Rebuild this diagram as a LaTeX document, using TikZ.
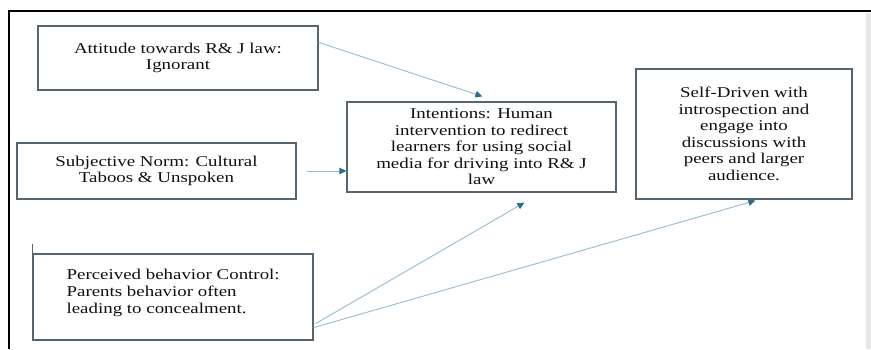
\documentclass[tikz,border=0pt]{standalone}
\usepackage{fontspec}
\setmainfont{Liberation Serif}[FakeStretch=1.26]
\usetikzlibrary{arrows.meta,calc}
\definecolor{boxline}{HTML}{56646F}
\definecolor{arrline}{HTML}{94BDD2}
\definecolor{arrtip}{HTML}{2C6D8E}
\definecolor{txt}{HTML}{101010}
\definecolor{strip}{HTML}{E6E6E6}
\tikzset{
  box/.style={draw=boxline, line width=1.2pt, rectangle, inner sep=0pt, align=center, text=txt,
    font=\fontsize{15pt}{16.5pt}\selectfont},
  plaintext/.style={inner sep=0pt, align=left, text=txt, font=\fontsize{15pt}{17pt}\selectfont},
  arr/.style={draw=arrline, line width=0.9pt, -{Triangle[length=7pt,width=6.5pt,color=arrtip]}},
  frame/.style={draw=black, line width=1.6pt}
}
\begin{document}
\begin{tikzpicture}[x=1pt,y=-1pt]
\useasboundingbox (0,0) rectangle (871,349);
\fill[white] (0,0) rectangle (871,349);
% page decoration
\fill[strip] (866,13) rectangle (871,349);
\draw[frame] (9,349) -- (9,11) -- (871,11);
% boxes
\node[box, minimum width=280pt, minimum height=64pt] (att) at (178,58)
  {Attitude towards R\& J law:\\ Ignorant};
\node[box, minimum width=279pt, minimum height=56pt] (subj) at (156.5,171)
  {Subjective Norm: Cultural\\ Taboos \& Unspoken};
\node[box, minimum width=269pt, minimum height=90pt] (int) at (481.5,147)
  {Intentions: Human\\ intervention to redirect\\ learners for using social\\ media for driving into R\& J\\ law};
\node[box, minimum width=216pt, minimum height=130pt] (self) at (744,134)
  {Self-Driven with\\ introspection and\\ engage into\\ discussions with\\ peers and larger\\ audience.};
\node[box, minimum width=280pt, minimum height=86pt] (perc) at (173,297) {};
\node[plaintext, anchor=north west] (perctext) at ([xshift=34pt,yshift=-15pt]perc.north west)
  {Perceived behavior Control:\\ Parents behavior often\\ leading to concealment.};
% small tick above perceived box
\draw[draw=boxline, line width=0.8pt] (perc.north west) -- ++(0,-9);
% connectors
\draw[arr] ([yshift=-17pt]att.north east) -- ([xshift=136pt,yshift=5pt]int.north west);
\draw[arr] ([xshift=10pt]subj.east) -- (int.west |- subj.east);
\draw[arr] ([xshift=2pt,yshift=17pt]perc.south east) -- ([xshift=178pt,yshift=-10pt]int.south west);
\draw[arr] ([xshift=0pt,yshift=13pt]perc.south east) -- ([xshift=120pt,yshift=-1pt]self.south west);
\end{tikzpicture}
\end{document}
